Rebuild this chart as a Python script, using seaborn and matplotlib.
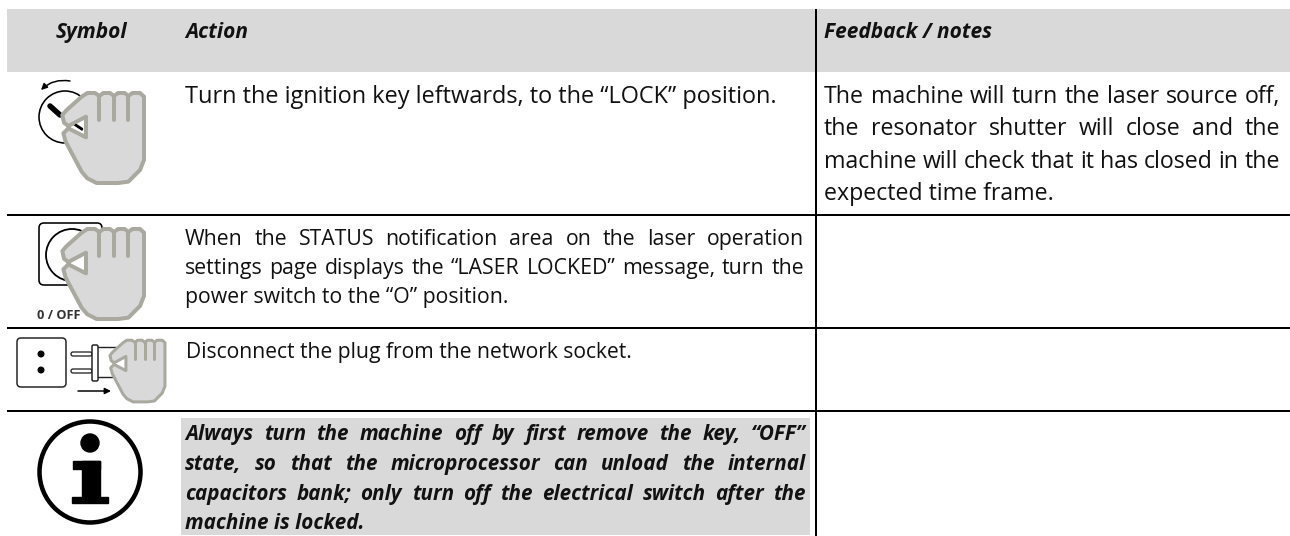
import matplotlib
matplotlib.use("Agg")
import matplotlib.pyplot as plt
from matplotlib.patches import Circle, FancyBboxPatch, Polygon, Rectangle, FancyArrowPatch
import seaborn as sns

# table text
header_labels = ["Symbol", "Action", "Feedback / notes"]
row1_action = ["Turn the ignition key leftwards, to the “LOCK” position."]
row1_notes = ["The machine will turn the laser source off,",
              "the resonator shutter will close and the",
              "machine will check that it has closed in the",
              "expected time frame."]
row2_action = ["When the STATUS notification area on the laser operation",
               "settings page displays the “LASER LOCKED” message, turn the",
               "power switch to the “O” position."]
row3_action = ["Disconnect the plug from the network socket."]
row4_action = ["Always turn the machine off by first remove the key, “OFF”",
               "state, so that the microprocessor can unload the internal",
               "capacitors bank; only turn off the electrical switch after the",
               "machine is locked."]
switch_label = "0 / OFF"

GREY = "#d9d9d9"
HAND_EDGE = "#aaa99f"

sns.set_theme(style="white")
plt.rcParams['font.family'] = ['Open Sans', 'DejaVu Sans']

fig = plt.figure(figsize=(12.9, 5.36), dpi=100)
ax = fig.add_axes([0, 0, 1, 1])
ax.set_xlim(0, 1290)
ax.set_ylim(536, 0)
ax.axis("off")

px = 72 / 100  # one pixel in points


def justified(lines, x0, x1, ys, size, **kw):
    r = fig.canvas.get_renderer()
    for i, (line, y) in enumerate(zip(lines, ys)):
        if i == len(lines) - 1:
            ax.text(x0, y, line, fontsize=size, va="baseline", color="#111111", **kw)
            continue
        words = line.split()
        widths = []
        for w in words:
            t = ax.text(0, 0, w, fontsize=size, **kw)
            widths.append(t.get_window_extent(r).width)
            t.remove()
        gap = (x1 - x0 - sum(widths)) / (len(words) - 1)
        x = x0
        for w, wd in zip(words, widths):
            ax.text(x, y, w, fontsize=size, va="baseline", color="#111111", **kw)
            x += wd + gap


# hand outline, traced off the first icon
hand_pts = [(187, 345), (200, 330), (245, 290), (262, 279), (285, 279), (298, 288), (310, 279), (330, 279),
            (342, 288), (354, 279), (374, 279), (385, 288), (397, 279), (420, 279), (432, 290),
            (432, 480), (420, 510), (385, 545), (355, 549), (290, 549), (262, 535), (245, 515),
            (197, 425), (190, 400), (205, 385), (258, 412), (258, 350), (205, 378), (192, 368)]
finger_pts = [(298, 288, 360), (342, 288, 360), (385, 288, 360)]


def hand(fx, fy, lw=4.0):
    ax.add_patch(Polygon([(fx(a), fy(b)) for a, b in hand_pts], closed=True, facecolor=GREY,
                         edgecolor=HAND_EDGE, linewidth=lw * px, joinstyle="round", zorder=5))
    for a, b, c in finger_pts:
        ax.plot([fx(a), fx(a)], [fy(b), fy(c)], color=HAND_EDGE, lw=lw * px, zorder=6,
                solid_capstyle="round")


# header band and highlight
ax.add_patch(Rectangle((7, 9), 1283, 63, facecolor=GREY, edgecolor="none", zorder=1))
ax.add_patch(Rectangle((181, 418), 629, 117, facecolor=GREY, edgecolor="none", zorder=1))

# rules
for y in [215, 328, 411]:
    ax.plot([7, 1290], [y, y], color="black", lw=2.0 * px, zorder=3, solid_capstyle="butt")
ax.plot([815.5, 815.5], [9, 536], color="black", lw=2.0 * px, zorder=3, solid_capstyle="butt")

# header
hkw = dict(fontsize=15.0, fontweight="bold", style="italic", color="#111111")
ax.text(91, 38, header_labels[0], ha="center", **hkw)
ax.text(185, 38, header_labels[1], **hkw)
ax.text(824, 38, header_labels[2], **hkw)

# body text
ax.text(185, 103, row1_action[0], fontsize=16.9, color="#111111")
justified(row1_notes, 824, 1280, [103, 135, 168, 200], 16.7)
justified(row2_action, 185, 804, [245, 274, 303], 15.3)
ax.text(186, 358, row3_action[0], fontsize=15.2, color="#111111")
justified(row4_action, 185, 806, [440, 470, 500, 529], 14.9, fontweight="bold", style="italic")

# icon 1: key switch
ax.add_patch(Circle((65, 117), 26, fill=False, edgecolor="black", lw=1.6 * px, zorder=2))
ax.plot([50, 60], [106, 115], color="black", lw=5.5 * px, solid_capstyle="round", zorder=2)
ax.plot([60, 82], [115, 130], color="black", lw=1.5 * px, zorder=2)
ax.plot([76, 82], [125, 129], color="black", lw=2.5 * px, zorder=7)
ax.add_patch(FancyArrowPatch((70, 81), (41, 90), connectionstyle="arc3,rad=0.25", arrowstyle="-|>",
                             mutation_scale=9, color="black", lw=1.5 * px, shrinkA=0, shrinkB=0, zorder=2))
hand(lambda a: a / 3, lambda b: b / 3)

# icon 2: power switch
ax.add_patch(FancyBboxPatch((39, 223), 63, 62, boxstyle="round,pad=0,rounding_size=5", fill=False,
                            edgecolor="black", lw=1.6 * px, zorder=2))
ax.add_patch(Circle((72, 255), 26, fill=False, edgecolor="black", lw=1.8 * px, zorder=2))
hand(lambda a: a / 3, lambda b: b / 3 + 136)
ax.text(37, 319, switch_label, fontsize=9.2, fontweight="bold", color="#333333", zorder=7)

# icon 3: plug and socket
ax.add_patch(FancyBboxPatch((17, 338), 49, 49, boxstyle="round,pad=0,rounding_size=4", fill=False,
                            edgecolor="#222222", lw=1.5 * px, zorder=2))
ax.add_patch(Circle((41, 354), 2.8, color="black", zorder=2))
ax.add_patch(Circle((41, 370), 2.8, color="black", zorder=2))
for y in [354, 371]:
    ax.add_patch(FancyBboxPatch((71, y - 2), 21, 4, boxstyle="round,pad=0,rounding_size=2", facecolor="white",
                                edgecolor="#222222", lw=1.3 * px, zorder=2))
for y in [347, 377]:
    ax.plot([98, 116], [y, y], color="#222222", lw=1.4 * px, zorder=2)
ax.add_patch(FancyBboxPatch((92, 345), 6, 36, boxstyle="round,pad=0,rounding_size=1.5", facecolor="white",
                            edgecolor="#222222", lw=1.5 * px, zorder=3))
ax.add_patch(FancyArrowPatch((78, 391), (111, 391), arrowstyle="-|>", mutation_scale=9, color="black",
                             lw=1.5 * px, shrinkA=0, shrinkB=0, zorder=2))
hand(lambda a: 110 + (a - 187) / 3 * 0.673, lambda b: 340 + (b - 278) / 3 * 0.685, lw=3.0)

# icon 4: information sign
ax.add_patch(Circle((90, 472), 50.5, fill=False, edgecolor="black", lw=4.5 * px, zorder=2))
ax.add_patch(Circle((90, 443), 9, color="black", zorder=2))
ax.add_patch(Rectangle((73, 461), 27, 8, color="black", zorder=2))
ax.add_patch(Rectangle((82, 461), 18, 38, color="black", zorder=2))
ax.add_patch(Rectangle((72, 497), 36, 6, color="black", zorder=2))

fig.savefig("out.png", dpi=100)
